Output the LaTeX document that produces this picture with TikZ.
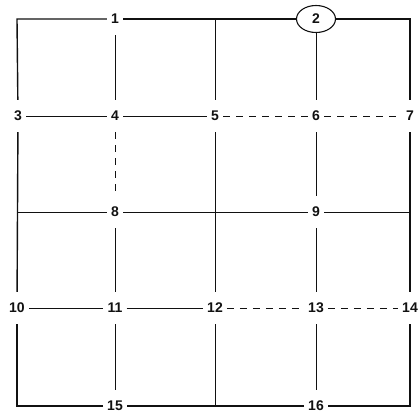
\documentclass[tikz,border=0pt]{standalone}
\usepackage{fontspec}
\setmainfont{Liberation Sans}
\usepackage{xcolor}
\usetikzlibrary{shapes.geometric}
\definecolor{ink}{HTML}{111111}

\begin{document}
\begin{tikzpicture}[x=1pt, y=-1pt,
    lbl/.style={font=\fontsize{14}{14}\selectfont\bfseries, text=ink, inner xsep=4pt, inner ysep=11pt},
    frame/.style={draw=ink, line width=1.4pt, line join=miter},
    gridline/.style={draw=ink, line width=0.6pt},
    faint/.style={gridline, dash pattern=on 7pt off 6pt}]
  \useasboundingbox (0,0) rectangle (419,415);

  % corners and unlabelled crossings
  \coordinate (tl) at (17,19);
  \coordinate (tr) at (410,19);
  \coordinate (bl) at (17,406);
  \coordinate (br) at (410,406);
  \coordinate (top5) at (215,19);
  \coordinate (bot5) at (215,406);
  \coordinate (left8) at (17,212);
  \coordinate (right8) at (410,212);

  % top row
  \node[lbl] (n1) at (115,19) {1};
  \node[lbl, ellipse, draw=ink, line width=1.1pt, inner sep=0pt,
        minimum width=39pt, minimum height=27pt] (n2) at (316,19) {2};
  % second row
  \node[lbl] (n3) at (18,116) {3};
  \node[lbl] (n4) at (115,116) {4};
  \node[lbl] (n5) at (215,116) {5};
  \node[lbl] (n6) at (316,116) {6};
  \node[lbl] (n7) at (410,116) {7};
  % middle row
  \node[lbl] (n8) at (115,212) {8};
  \node[lbl] (n9) at (316,212) {9};
  % fourth row
  \node[lbl] (n10) at (17,308) {10};
  \node[lbl] (n11) at (115,308) {11};
  \node[lbl] (n12) at (215,308) {12};
  \node[lbl] (n13) at (316,308) {13};
  \node[lbl] (n14) at (410,308) {14};
  % bottom row
  \node[lbl] (n15) at (115,406) {15};
  \node[lbl] (n16) at (316,406) {16};

  % outer frame
  \draw[frame] (n3) -- (tl) -- (n1);
  \draw[frame] (n1) -- (n2);
  \draw[frame] (n2) -- (tr) -- (n7);
  \draw[frame] (n7) -- (n14);
  \draw[frame] (n14) -- (br) -- (n16);
  \draw[frame] (n16) -- (n15);
  \draw[frame] (n15) -- (bl) -- (n10);
  \draw[frame] (n10) -- (n3);

  % horizontal lines
  \draw[gridline] (n3) -- (n4);
  \draw[gridline] (n4) -- (n5);
  \draw[faint] (n5) -- (n6);
  \draw[faint] (n6) -- (n7);
  \draw[gridline] (left8) -- (n8);
  \draw[gridline] (n8) -- (n9);
  \draw[gridline] (n9) -- (right8);
  \draw[gridline] (n10) -- (n11);
  \draw[gridline] (n11) -- (n12);
  \draw[faint] (n12) -- (n13);
  \draw[faint] (n13) -- (n14);

  % vertical lines
  \draw[gridline] (n1) -- (n4);
  \draw[faint] (n4) -- (n8);
  \draw[gridline] (n8) -- (n11);
  \draw[gridline] (n11) -- (n15);
  \draw[gridline] (top5) -- (n5);
  \draw[gridline] (n5) -- (n12);
  \draw[gridline] (n12) -- (bot5);
  \draw[gridline] (n2) -- (n6);
  \draw[gridline] (n6) -- (n9);
  \draw[gridline] (n9) -- (n13);
  \draw[gridline] (n13) -- (n16);
\end{tikzpicture}
\end{document}
